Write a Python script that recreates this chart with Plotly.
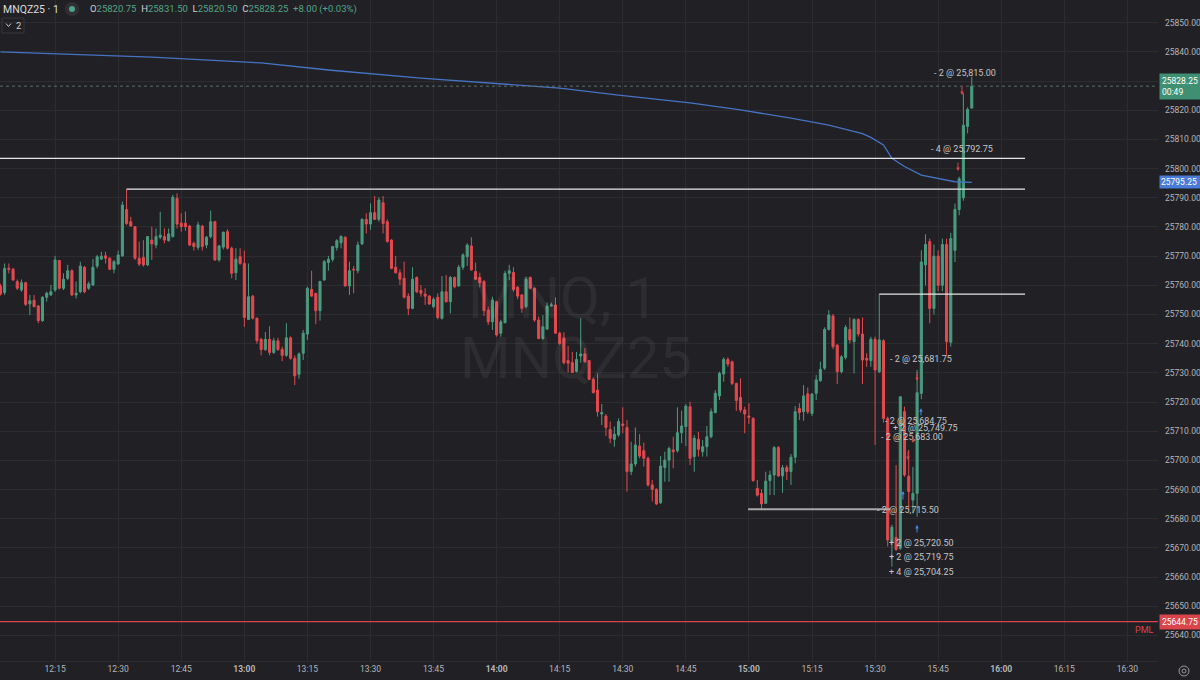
import plotly.graph_objects as go
import pandas as pd

DAY = "2025-11-20"
FIRST_BAR = "12:02"

opens = [
25759.8, 25757.5, 25765.8, 25765.5, 25761.3, 25758.4, 25760.9, 25753.6, 25754.9, 25752.9,
25747.9, 25755.9, 25756.7, 25758.4, 25768.5, 25759.0, 25762.4, 25765.0, 25756.7, 25757.8,
25766.2, 25759.0, 25760.1, 25766.6, 25769.0, 25770.1, 25769.3, 25765.5, 25767.3, 25770.1,
25786.0, 25781.8, 25780.1, 25769.3, 25769.5, 25767.0, 25775.5, 25773.8, 25776.5, 25776.7,
25775.3, 25776.7, 25789.8, 25781.3, 25781.3, 25780.3, 25774.4, 25773.0, 25780.3, 25773.8,
25776.7, 25781.8, 25768.7, 25773.1, 25778.4, 25772.7, 25764.3, 25769.8, 25767.5, 25748.3,
25756.3, 25748.7, 25741.5, 25738.0, 25741.5, 25737.0, 25741.0, 25738.0, 25736.0, 25742.0,
25735.0, 25729.5, 25736.7, 25743.3, 25758.6, 25757.2, 25751.3, 25761.8, 25767.8, 25768.9,
25773.0, 25774.6, 25776.5, 25759.8, 25765.5, 25765.0, 25774.2, 25782.6, 25781.0, 25784.9,
25782.6, 25788.3, 25781.8, 25775.5, 25766.2, 25764.3, 25762.4, 25756.3, 25752.1, 25762.7,
25758.2, 25757.0, 25756.3, 25752.7, 25755.9, 25748.7, 25757.8, 25754.4, 25762.7, 25759.8,
25766.2, 25769.8, 25773.5, 25764.7, 25762.7, 25761.3, 25751.5, 25747.5, 25754.4, 25743.6,
25747.2, 25764.1, 25764.4, 25759.3, 25756.7, 25752.7, 25762.7, 25759.0, 25748.1, 25741.8,
25745.0, 25752.9, 25753.3, 25743.6, 25742.0, 25734.2, 25733.5, 25730.5, 25735.8, 25736.5,
25734.2, 25727.8, 25724.1, 25715.9, 25715.2, 25710.6, 25707.2, 25708.7, 25712.5, 25711.3,
25696.2, 25698.8, 25704.9, 25703.3, 25700.7, 25691.6, 25690.1, 25685.5, 25697.6, 25700.1,
25703.6, 25703.3, 25709.5, 25711.6, 25718.4, 25701.3, 25707.2, 25703.0, 25704.7, 25708.1,
25716.4, 25722.1, 25729.6, 25734.6, 25733.8, 25726.4, 25721.6, 25717.3, 25715.2, 25714.4,
25690.4, 25688.7, 25685.3, 25693.1, 25695.0, 25704.4, 25694.7, 25697.6, 25696.2, 25701.1,
25717.8, 25716.7, 25722.8, 25716.1, 25723.0, 25727.3, 25731.6, 25744.9, 25749.5, 25739.5,
25730.4, 25735.3, 25744.9, 25740.7, 25748.3, 25743.3, 25735.0, 25734.2, 25741.5, 25730.4,
25741.0, 25714.4, 25672.1, 25673.6, 25669.9, 25716.7, 25694.6, 25686.4, 25688.7, 25723.0,
25767.0, 25775.0, 25752.1, 25770.0, 25760.0, 25774.0, 25740.5, 25772.0, 25786.0, 25790.0,
25814.4, 25820.75]

highs = [
25760.5, 25767.5, 25767.5, 25766.0, 25762.0, 25762.0, 25761.2, 25756.7, 25756.7, 25753.3,
25756.3, 25757.8, 25760.1, 25770.1, 25768.7, 25764.1, 25767.0, 25765.5, 25761.3, 25768.1,
25766.6, 25761.3, 25769.0, 25770.4, 25771.5, 25771.5, 25769.6, 25768.7, 25771.9, 25788.7,
25793.0, 25783.5, 25780.3, 25775.0, 25775.5, 25776.9, 25780.1, 25779.5, 25785.2, 25779.5,
25779.5, 25791.0, 25791.5, 25784.7, 25785.3, 25780.7, 25775.0, 25781.8, 25780.7, 25776.9,
25785.6, 25782.1, 25773.8, 25778.4, 25779.2, 25773.3, 25772.7, 25772.7, 25771.9, 25767.5,
25756.7, 25749.0, 25742.0, 25744.0, 25746.0, 25742.0, 25742.0, 25739.0, 25747.0, 25742.5,
25736.0, 25737.0, 25744.7, 25759.5, 25765.0, 25757.5, 25761.6, 25768.7, 25770.1, 25773.5,
25775.8, 25777.2, 25776.7, 25768.1, 25766.6, 25775.0, 25783.0, 25784.7, 25788.1, 25790.6,
25790.2, 25790.6, 25782.6, 25775.8, 25770.0, 25765.5, 25768.1, 25757.3, 25766.2, 25763.0,
25760.1, 25759.0, 25756.7, 25755.9, 25757.3, 25763.2, 25763.5, 25763.2, 25763.0, 25767.0,
25771.0, 25774.4, 25776.5, 25767.8, 25764.3, 25761.8, 25752.7, 25756.1, 25754.7, 25748.1,
25765.0, 25767.0, 25766.2, 25759.8, 25757.0, 25763.0, 25763.0, 25759.3, 25749.3, 25749.8,
25754.1, 25754.1, 25755.9, 25744.1, 25743.9, 25739.2, 25737.2, 25737.2, 25748.7, 25738.5,
25734.4, 25728.5, 25729.8, 25719.3, 25715.9, 25713.3, 25711.6, 25714.4, 25718.2, 25713.8,
25706.4, 25711.3, 25709.0, 25706.1, 25701.3, 25693.3, 25690.4, 25701.5, 25703.0, 25704.7,
25708.1, 25718.2, 25717.0, 25719.3, 25720.1, 25708.7, 25709.8, 25707.0, 25711.8, 25717.8,
25724.1, 25730.4, 25735.3, 25735.3, 25734.2, 25726.6, 25728.1, 25718.4, 25719.6, 25714.8,
25693.3, 25690.1, 25696.1, 25696.5, 25704.9, 25704.9, 25698.4, 25698.4, 25702.2, 25718.6,
25719.6, 25725.8, 25725.0, 25722.8, 25729.3, 25733.8, 25745.6, 25751.5, 25750.2, 25739.9,
25736.1, 25746.4, 25749.0, 25748.7, 25748.7, 25749.0, 25736.7, 25742.4, 25742.4, 25757.0,
25741.5, 25715.0, 25678.0, 25698.4, 25722.0, 25718.4, 25703.6, 25697.8, 25731.0, 25772.0,
25777.5, 25776.0, 25774.0, 25772.0, 25776.0, 25776.0, 25778.0, 25788.0, 25797.2, 25825.8,
25821.0, 25831.5]

lows = [
25756.5, 25756.7, 25764.1, 25761.6, 25758.4, 25757.8, 25752.9, 25749.8, 25752.4, 25747.0,
25747.5, 25754.4, 25756.4, 25757.8, 25758.6, 25758.4, 25761.8, 25756.3, 25755.5, 25757.3,
25757.3, 25758.4, 25759.8, 25765.8, 25768.7, 25767.5, 25765.2, 25764.1, 25767.0, 25769.8,
25780.7, 25780.1, 25768.7, 25766.6, 25766.4, 25766.6, 25768.7, 25772.7, 25775.8, 25774.4,
25775.0, 25776.4, 25779.5, 25778.4, 25778.7, 25773.5, 25771.9, 25772.1, 25771.9, 25772.7,
25776.1, 25768.4, 25768.1, 25772.3, 25772.3, 25762.4, 25761.8, 25767.0, 25745.8, 25748.1,
25748.3, 25740.0, 25736.0, 25737.5, 25736.0, 25736.5, 25737.5, 25734.0, 25735.5, 25734.5,
25725.8, 25728.0, 25734.4, 25741.3, 25756.1, 25746.7, 25747.9, 25761.6, 25765.0, 25768.1,
25771.9, 25772.7, 25759.5, 25756.7, 25757.3, 25764.1, 25773.8, 25777.8, 25779.0, 25782.4,
25781.8, 25777.8, 25774.6, 25765.5, 25764.1, 25760.1, 25755.5, 25749.8, 25751.8, 25757.3,
25756.1, 25753.3, 25753.3, 25752.1, 25748.3, 25748.3, 25754.1, 25750.4, 25759.0, 25759.5,
25765.3, 25766.6, 25765.0, 25761.8, 25759.3, 25749.5, 25746.4, 25744.7, 25742.4, 25742.4,
25747.0, 25761.8, 25757.8, 25755.2, 25750.6, 25752.1, 25758.6, 25747.5, 25741.5, 25741.3,
25744.7, 25752.7, 25743.3, 25739.6, 25732.9, 25730.1, 25730.0, 25730.1, 25733.5, 25733.5,
25727.5, 25723.0, 25715.0, 25712.1, 25708.4, 25705.9, 25704.7, 25708.1, 25709.3, 25689.3,
25695.0, 25697.9, 25700.7, 25697.9, 25691.0, 25685.9, 25684.7, 25685.1, 25692.7, 25692.7,
25697.3, 25702.7, 25705.9, 25704.9, 25698.4, 25696.1, 25701.3, 25701.3, 25701.3, 25707.6,
25716.1, 25720.7, 25727.0, 25732.1, 25725.8, 25717.0, 25716.4, 25709.3, 25712.5, 25692.7,
25687.6, 25683.2, 25685.1, 25688.1, 25688.1, 25694.4, 25688.9, 25693.3, 25691.6, 25699.0,
25713.8, 25713.6, 25715.9, 25715.2, 25720.7, 25727.0, 25731.0, 25744.5, 25738.1, 25726.2,
25729.8, 25734.6, 25740.1, 25729.8, 25742.4, 25726.2, 25732.1, 25732.1, 25705.3, 25729.9,
25713.0, 25670.5, 25663.6, 25669.0, 25669.3, 25694.4, 25683.0, 25681.8, 25680.7, 25721.0,
25760.0, 25747.0, 25750.0, 25758.0, 25758.0, 25736.1, 25739.0, 25768.0, 25784.0, 25789.0,
25812.1, 25820.5]

closes = [
25757.0, 25765.8, 25765.5, 25761.8, 25759.0, 25760.9, 25753.5, 25754.7, 25752.7, 25747.9,
25755.9, 25757.3, 25757.8, 25768.7, 25759.0, 25762.1, 25765.0, 25756.7, 25757.3, 25766.6,
25757.8, 25760.5, 25766.2, 25769.8, 25770.0, 25769.3, 25765.5, 25768.1, 25770.4, 25787.5,
25781.2, 25780.3, 25769.3, 25767.3, 25767.0, 25776.7, 25774.2, 25776.7, 25777.2, 25775.5,
25777.6, 25790.2, 25781.0, 25780.1, 25780.1, 25773.8, 25773.3, 25780.7, 25773.3, 25776.5,
25781.8, 25768.7, 25773.5, 25778.2, 25772.7, 25764.1, 25769.0, 25767.5, 25749.0, 25756.1,
25748.7, 25741.0, 25738.0, 25741.5, 25737.0, 25741.0, 25738.0, 25736.0, 25742.0, 25735.0,
25729.0, 25736.5, 25743.6, 25759.0, 25756.3, 25751.3, 25761.3, 25768.1, 25768.9, 25773.3,
25775.3, 25776.7, 25759.8, 25765.0, 25765.3, 25773.8, 25782.6, 25781.0, 25784.9, 25782.6,
25789.2, 25781.2, 25775.0, 25765.8, 25764.3, 25762.1, 25755.9, 25752.1, 25762.1, 25757.8,
25757.3, 25756.3, 25753.6, 25755.2, 25749.0, 25757.8, 25754.4, 25762.7, 25759.5, 25766.2,
25770.4, 25773.8, 25765.3, 25762.1, 25760.9, 25751.3, 25747.5, 25755.0, 25743.0, 25747.5,
25764.1, 25765.0, 25758.6, 25756.3, 25752.1, 25762.1, 25759.0, 25748.1, 25741.8, 25745.8,
25752.9, 25753.3, 25743.6, 25740.1, 25733.5, 25733.3, 25730.1, 25734.6, 25736.5, 25733.8,
25727.8, 25723.2, 25716.7, 25716.4, 25711.3, 25707.6, 25709.0, 25713.3, 25712.0, 25696.2,
25698.8, 25705.3, 25701.5, 25700.7, 25691.6, 25690.1, 25685.1, 25698.1, 25700.1, 25704.1,
25703.0, 25709.5, 25711.8, 25718.6, 25700.7, 25707.6, 25703.8, 25704.7, 25708.1, 25716.7,
25723.0, 25729.8, 25734.6, 25733.0, 25726.4, 25720.5, 25717.3, 25715.9, 25714.8, 25693.1,
25688.1, 25685.1, 25692.9, 25695.0, 25704.4, 25694.7, 25697.5, 25696.2, 25701.1, 25716.7,
25716.4, 25722.1, 25716.7, 25722.8, 25727.6, 25731.2, 25744.9, 25749.8, 25739.0, 25730.4,
25735.5, 25745.6, 25741.3, 25748.3, 25743.3, 25734.4, 25734.4, 25741.5, 25731.0, 25741.3,
25714.4, 25672.7, 25677.1, 25669.5, 25721.8, 25695.0, 25689.3, 25688.7, 25723.2, 25768.0,
25774.0, 25752.1, 25770.0, 25760.0, 25774.0, 25740.7, 25776.0, 25786.0, 25796.5, 25814.9,
25820.3, 25828.25]

# VWAP readings (bar index -> value)
vwap_bar = [0, 36, 62, 78, 100, 119, 133, 147, 164, 176, 188, 197, 205, 207, 210, 212, 215, 219, 224, 227, 231]
vwap_val = [25840.0, 25838.2, 25836.2, 25833.8, 25831.0, 25829.0, 25827.6, 25825.2, 25822.5, 25820.1,
            25817.3, 25814.9, 25812.0, 25810.7, 25808.1, 25803.5, 25800.7, 25797.8, 25796.3, 25795.5, 25795.25]

# drawn horizontal levels
level_price = [25803.5, 25793.0, 25757.0]
level_start = ["11:50", "12:32", "15:31"]
level_end = ["16:05:40", "16:05:40", "16:05:40"]
grey_level_price = 25683.25
grey_level_span = ["14:59:48", "15:33:36"]

pml_price = 25644.75
last_price = 25828.25
vwap_last = 25795.25

tick_labels = ["12:15", "12:30", "12:45", "13:00", "13:15", "13:30", "13:45", "14:00", "14:15",
               "14:30", "14:45", "15:00", "15:15", "15:30", "15:45", "16:00", "16:15", "16:30"]
price_ticks = [25640, 25650, 25660, 25670, 25680, 25690, 25700, 25710, 25720, 25730, 25740,
               25750, 25760, 25770, 25780, 25790, 25800, 25810, 25820, 25830, 25840, 25850]

trade_text = ["- 2 @ 25,815.00", "- 4 @ 25,792.75", "- 2 @ 25,681.75", "- 2 @ 25,684.75",
              "+ 2 @ 25,749.75", "- 2 @ 25,683.00", "- 2 @ 25,715.50", "+ 2 @ 25,720.50",
              "+ 2 @ 25,719.75", "+ 4 @ 25,704.25"]
trade_time = ["15:43:32", "15:42:50", "15:33:05", "15:31:53", "15:33:47", "15:30:56", "15:29:59",
              "15:32:50", "15:32:50", "15:32:50"]
trade_price = [25832.8, 25806.7, 25734.8, 25713.5, 25711.1, 25708.0, 25683.0, 25671.7, 25666.9, 25661.7]

sell_time = ["15:50:40", "15:49:43", "15:39:58", "15:39:01", "15:37:50"]
sell_tip = [25825.2, 25799.2, 25727.2, 25706.0, 25700.1]
sell_tail = [25828.6, 25802.6, 25730.6, 25708.7, 25703.6]
buy_time = ["15:40:55", "15:36:38", "15:39:58"]
buy_tip = [25717.9, 25689.5, 25677.9]
buy_tail = [25714.9, 25686.1, 25674.8]

# ---------------- styling / layout ----------------
W, H = 1200, 680
ML, MR, MT, MB = 0, 42, 0, 19
PW, PH = W - ML - MR, H - MT - MB
BG = "#212125"
GRID = "#2c2c31"
UP = "#4b9b7f"
DOWN = "#e34a4f"
TXT = "#b4b4b8"
FONT = "Roboto"


def px(x):
    return (x - ML) / PW


def py(y):
    return 1 - (y - MT) / PH


def T(hm):
    return f"{DAY} {hm}"


n = min(len(opens), len(highs), len(lows), len(closes))
times = pd.date_range(T(FIRST_BAR), periods=n, freq="1min")

fig = go.Figure()
fig.add_trace(go.Candlestick(
    x=times, open=opens[:n], high=highs[:n], low=lows[:n], close=closes[:n],
    increasing=dict(line=dict(color=UP, width=1), fillcolor=UP),
    decreasing=dict(line=dict(color=DOWN, width=1), fillcolor=DOWN),
    whiskerwidth=0, showlegend=False, hoverinfo="skip"))

fig.add_trace(go.Scatter(
    x=[times[i] for i in vwap_bar], y=vwap_val, mode="lines",
    line=dict(color="#4673c4", width=1.3), showlegend=False, hoverinfo="skip"))

shapes = []
for p, s, e in zip(level_price, level_start, level_end):
    shapes.append(dict(type="line", xref="x", yref="y", x0=T(s), x1=T(e), y0=p, y1=p,
                       line=dict(color="#e6e6e6", width=1.3)))
shapes.append(dict(type="line", xref="x", yref="y", x0=T(grey_level_span[0]), x1=T(grey_level_span[1]),
                   y0=grey_level_price, y1=grey_level_price, line=dict(color="#a8a8a8", width=2)))
shapes.append(dict(type="line", xref="paper", yref="y", x0=0, x1=1, y0=pml_price, y1=pml_price,
                   line=dict(color="#d9454b", width=1.2)))
shapes.append(dict(type="line", xref="paper", yref="y", x0=0, x1=1, y0=last_price, y1=last_price,
                   line=dict(color="#5b6e68", width=1, dash="dot")))
# legend widgets
shapes.append(dict(type="circle", xref="paper", yref="paper", x0=px(65), x1=px(79), y0=py(16), y1=py(2),
                   fillcolor="#303034", line=dict(width=0)))
shapes.append(dict(type="circle", xref="paper", yref="paper", x0=px(69), x1=px(75), y0=py(12), y1=py(6),
                   fillcolor="#4fa386", line=dict(width=0)))
shapes.append(dict(type="rect", xref="paper", yref="paper", x0=px(2), x1=px(24), y0=py(33), y1=py(18),
                   fillcolor="rgba(0,0,0,0)", line=dict(color="#38383d", width=1)))
shapes.append(dict(type="path", xref="paper", yref="paper",
                   path=f"M {px(6)} {py(23.5)} L {px(8.5)} {py(26.5)} L {px(11)} {py(23.5)}",
                   line=dict(color="#c8c8c8", width=1)))
# settings icon
shapes.append(dict(type="circle", xref="paper", yref="paper", x0=px(1179), x1=px(1189), y0=py(676), y1=py(666),
                   fillcolor="rgba(0,0,0,0)", line=dict(color="#9a9a9e", width=1)))
shapes.append(dict(type="circle", xref="paper", yref="paper", x0=px(1182), x1=px(1186), y0=py(673), y1=py(669),
                   fillcolor="rgba(0,0,0,0)", line=dict(color="#9a9a9e", width=1)))

ann = []
# watermark
ann.append(dict(text="MNQ, 1", xref="paper", yref="paper", x=px(563), y=py(298), showarrow=False,
                font=dict(family=FONT, size=58, color="rgba(255,255,255,0.055)")))
ann.append(dict(text="MNQZ25", xref="paper", yref="paper", x=px(576), y=py(358), showarrow=False,
                font=dict(family=FONT, size=58, color="rgba(255,255,255,0.055)")))
# top legend
ann.append(dict(text="MNQZ25 · 1", xref="paper", yref="paper", x=px(1), y=py(9), xanchor="left",
                yanchor="middle", showarrow=False, font=dict(family=FONT, size=10.5, color="#dcdcdc")))
G = "#52a386"
ohlc = (f"O<span style='color:{G}'>25820.75</span>  H<span style='color:{G}'>25831.50</span>  "
        f"L<span style='color:{G}'>25820.50</span>  C<span style='color:{G}'>25828.25</span>  "
        f"<span style='color:{G}'>+8.00 (+0.03%)</span>")
ann.append(dict(text=ohlc, xref="paper", yref="paper", x=px(88), y=py(9), xanchor="left", yanchor="middle",
                showarrow=False, font=dict(family=FONT, size=9.5, color="#cfcfd2")))
ann.append(dict(text="2", xref="paper", yref="paper", x=px(14), y=py(25.5), xanchor="left", yanchor="middle",
                showarrow=False, font=dict(family=FONT, size=9.5, color="#cfcfd2")))
# trade labels
for t, tt, pp in zip(trade_text, trade_time, trade_price):
    ann.append(dict(text=t, x=T(tt), y=pp, xref="x", yref="y", xanchor="left", yanchor="middle",
                    showarrow=False, font=dict(family=FONT, size=9, color="#c4c4c8")))
# execution arrows
for tt, tip, tail in zip(sell_time, sell_tip, sell_tail):
    ann.append(dict(x=T(tt), y=tip, ax=T(tt), ay=tail, xref="x", yref="y", axref="x", ayref="y", text="",
                    showarrow=True, arrowhead=2, arrowsize=0.7, arrowwidth=1, arrowcolor="#d9454b"))
for tt, tip, tail in zip(buy_time, buy_tip, buy_tail):
    ann.append(dict(x=T(tt), y=tip, ax=T(tt), ay=tail, xref="x", yref="y", axref="x", ayref="y", text="",
                    showarrow=True, arrowhead=2, arrowsize=0.7, arrowwidth=1, arrowcolor="#4d86e0"))
# right side price tags
ann.append(dict(text="25828.25<br>00:49", xref="paper", yref="y", x=px(1159), y=last_price, xanchor="left",
                yanchor="middle", showarrow=False, align="left", bgcolor="#3f8f72", borderpad=2, width=37,
                font=dict(family=FONT, size=8.5, color="#ffffff")))
ann.append(dict(text="25795.25", xref="paper", yref="y", x=px(1159), y=vwap_last, xanchor="left",
                yanchor="middle", showarrow=False, align="left", bgcolor="#4a7bd6", borderpad=1, width=38,
                font=dict(family=FONT, size=8.5, color="#ffffff")))
ann.append(dict(text="25644.75", xref="paper", yref="y", x=px(1159), y=pml_price, xanchor="left",
                yanchor="middle", showarrow=False, align="left", bgcolor="#d9454b", borderpad=2, width=37,
                font=dict(family=FONT, size=8.5, color="#ffffff")))
ann.append(dict(text="PML", xref="paper", yref="y", x=px(1156), y=pml_price, xanchor="right", yanchor="top",
                yshift=-1, showarrow=False, font=dict(family=FONT, size=9, color="#d9454b")))

# axis ranges (pixel-calibrated)
x_range = [T("12:01:53.8"), T("16:37:17")]
y_range = [25631.26, 25857.78]

fig.update_layout(
    width=W, height=H, margin=dict(l=ML, r=MR, t=MT, b=MB),
    paper_bgcolor=BG, plot_bgcolor=BG, shapes=shapes, annotations=ann,
    font=dict(family=FONT, color=TXT),
    xaxis=dict(type="date", range=x_range, rangeslider=dict(visible=False),
               tickvals=[T(t) for t in tick_labels],
               ticktext=[f"<b>{t}</b>" if t.endswith(":00") else t for t in tick_labels],
               tickfont=dict(family=FONT, size=8.5, color=TXT), showgrid=True, gridcolor=GRID,
               gridwidth=1, zeroline=False, showline=True, linecolor="#2c2c31", ticks=""),
    yaxis=dict(side="right", range=y_range, tickvals=price_ticks,
               ticktext=[f"{v:.2f}" for v in price_ticks],
               tickfont=dict(family=FONT, size=8.5, color=TXT), showgrid=True, gridcolor=GRID,
               zeroline=False, showline=False, ticks="", ticklabelstandoff=6),
)

fig.write_html("out.html")
